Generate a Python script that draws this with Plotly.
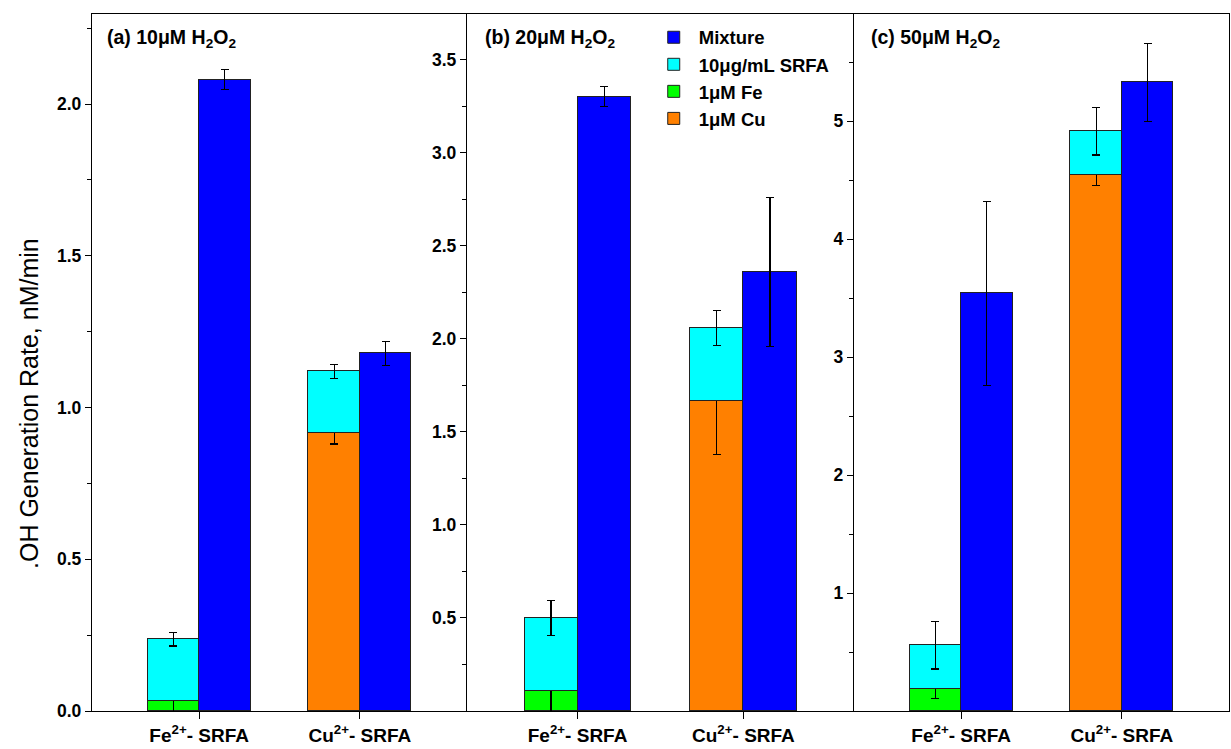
import plotly.graph_objects as go

# ---- data ----
categories = ["Fe<sup>2+</sup>- SRFA", "Cu<sup>2+</sup>- SRFA"]
panel_labels = ["(a) 10μM H<sub>2</sub>O<sub>2</sub>",
                "(b) 20μM H<sub>2</sub>O<sub>2</sub>",
                "(c) 50μM H<sub>2</sub>O<sub>2</sub>"]
series_names = ["Mixture", "10μg/mL SRFA", "1μM Fe", "1μM Cu"]

fe_metal = [0.033, 0.109, 0.186]
fe_metal_err = [0.040, 0.150, 0.080]
cu_metal = [0.916, 1.667, 4.542]
cu_metal_err = [0.036, 0.287, 0.087]
srfa = [0.204, 0.390, 0.370]
srfa_err = [0.023, 0.094, 0.200]
mixture_fe = [2.080, 3.303, 3.540]
mixture_fe_err = [0.033, 0.053, 0.780]
mixture_cu = [1.179, 2.359, 5.328]
mixture_cu_err = [0.040, 0.400, 0.330]

y_ranges = [[0, 2.297], [0, 3.747], [0, 5.907]]
y_tickvals = [[0.0, 0.5, 1.0, 1.5, 2.0],
              [0.5, 1.0, 1.5, 2.0, 2.5, 3.0, 3.5],
              [1, 2, 3, 4, 5]]
y_minor = [0.25, 0.25, 0.5]
y_fmt = [".1f", ".1f", "d"]

colors = {"Mixture": "#0000FF", "10μg/mL SRFA": "#00FFFF",
          "1μM Fe": "#00FF00", "1μM Cu": "#FF8000"}

FONT = "Liberation Sans, Arial, sans-serif"
W, H = 1231, 749
x_edges = [92, 467, 854, 1229]
y_top, y_bot = 14.0, 711.0
cat_pos = [1, 2]
bw = 0.32
stack_x = [c - bw / 2 for c in cat_pos]
mix_x = [c + bw / 2 for c in cat_pos]

fig = go.Figure()
line = dict(color="#222222", width=1)
eb = dict(type="data", color="black", thickness=1.2, width=4)

for i in range(3):
    xa = "x" if i == 0 else f"x{i+1}"
    ya = "y" if i == 0 else f"y{i+1}"
    show = i == 0
    fig.add_trace(go.Bar(
        x=[stack_x[0]], y=[fe_metal[i]], width=bw, name="1μM Fe",
        marker=dict(color=colors["1μM Fe"], line=line),
        error_y=dict(eb, array=[fe_metal_err[i]]),
        xaxis=xa, yaxis=ya, legendgroup="fe", showlegend=show, legendrank=3))
    fig.add_trace(go.Bar(
        x=[stack_x[1]], y=[cu_metal[i]], width=bw, name="1μM Cu",
        marker=dict(color=colors["1μM Cu"], line=line),
        error_y=dict(eb, array=[cu_metal_err[i]]),
        xaxis=xa, yaxis=ya, legendgroup="cu", showlegend=show, legendrank=4))
    fig.add_trace(go.Bar(
        x=stack_x, y=[srfa[i], srfa[i]], width=bw, name="10μg/mL SRFA",
        marker=dict(color=colors["10μg/mL SRFA"], line=line),
        error_y=dict(eb, array=[srfa_err[i], srfa_err[i]]),
        xaxis=xa, yaxis=ya, legendgroup="srfa", showlegend=show, legendrank=2))
    fig.add_trace(go.Bar(
        x=mix_x, y=[mixture_fe[i], mixture_cu[i]], width=bw, name="Mixture",
        marker=dict(color=colors["Mixture"], line=line),
        error_y=dict(eb, array=[mixture_fe_err[i], mixture_cu_err[i]]),
        xaxis=xa, yaxis=ya, legendgroup="mix", showlegend=show, legendrank=1))

layout = dict(
    width=W, height=H, margin=dict(l=0, r=0, t=0, b=0, autoexpand=False),
    paper_bgcolor="white", plot_bgcolor="white",
    barmode="stack", bargap=0,
    font=dict(family=FONT, color="black"),
    showlegend=True,
    legend=dict(x=0.527, y=0.975, xanchor="left", yanchor="top",
                traceorder="normal", bgcolor="rgba(0,0,0,0)",
                font=dict(family=FONT, size=18.5, color="black", weight="bold"),
                itemwidth=40, tracegroupgap=0),
)

y0 = 1 - y_bot / H
y1 = 1 - y_top / H
for i in range(3):
    sx = "" if i == 0 else str(i + 1)
    layout["xaxis" + sx] = dict(
        domain=[x_edges[i] / W, x_edges[i + 1] / W], anchor="y" + sx,
        range=[1 / 3, 8 / 3], tickvals=cat_pos, ticktext=categories,
        ticks="outside", ticklen=7, tickwidth=1.3, tickcolor="black",
        showline=True, linecolor="black", linewidth=1.3, mirror=True,
        showgrid=False, zeroline=False, automargin=False,
        tickfont=dict(family=FONT, size=19, color="black", weight="bold"))
    layout["yaxis" + sx] = dict(
        domain=[y0, y1], anchor="x" + sx, range=y_ranges[i],
        tickvals=y_tickvals[i], tickformat=y_fmt[i],
        ticks="outside", ticklen=6, tickwidth=1.3, tickcolor="black",
        minor=dict(dtick=y_minor[i], ticks="outside", ticklen=4,
                   tickwidth=1.2, tickcolor="black", showgrid=False),
        showline=True, linecolor="black", linewidth=1.3,
        mirror=(i == 2), automargin=False,
        showgrid=False, zeroline=False,
        tickfont=dict(family=FONT, size=17.5, color="black", weight="bold"))

fig.update_layout(**layout)

label_x = [105, 482.5, 869]
for i in range(3):
    fig.add_annotation(text=panel_labels[i], xref="paper", yref="paper",
                       x=label_x[i] / W, y=1 - 39 / H, xanchor="left",
                       yanchor="middle", showarrow=False,
                       font=dict(family=FONT, size=19.5, color="black", weight="bold"))

fig.add_annotation(text=".OH Generation Rate, nM/min", xref="paper", yref="paper",
                   x=29 / W, y=1 - 404 / H, xanchor="center", yanchor="middle",
                   textangle=-90, showarrow=False,
                   font=dict(family=FONT, size=25, color="black"))

fig.write_html("out.html")
